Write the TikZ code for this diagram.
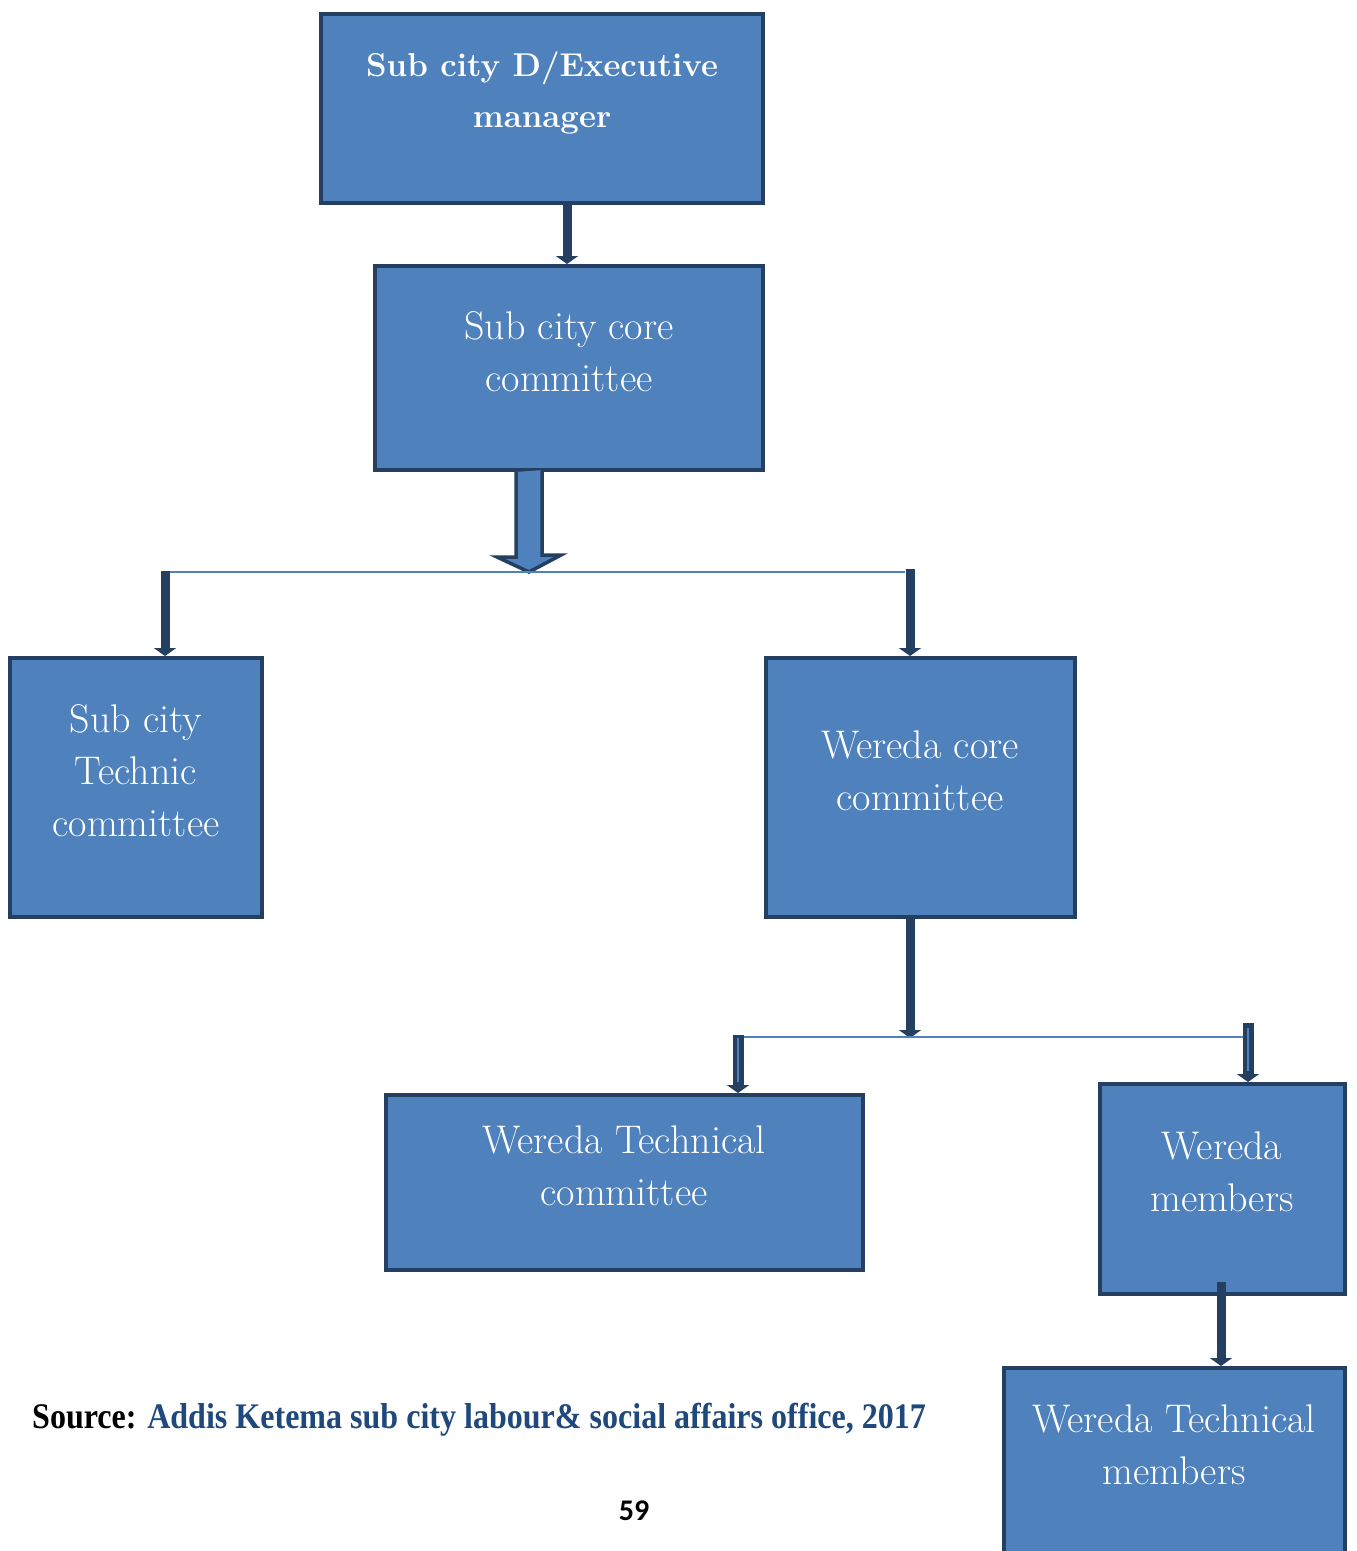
\documentclass[tikz,border=0pt]{standalone}
\usepackage{fontspec}
\usepackage{graphicx}
\usetikzlibrary{arrows.meta,calc}
\newfontfamily\srcfont{Liberation Serif}
\newfontfamily\numfont{Carlito}
\definecolor{boxfill}{HTML}{4F81BD}
\definecolor{boxline}{HTML}{243F60}
\definecolor{srcblue}{HTML}{1F497D}
\tikzset{
  box/.style={draw=boxline, line width=4pt, fill=boxfill, rectangle, inner sep=0pt},
  boxtext/.style={text=white, align=center, font=\fontsize{40}{52}\selectfont},
  darr/.style={draw=boxline, line width=9pt, -{Triangle[width=22pt,length=8pt]}},
  hline/.style={draw=boxfill, line width=1.6pt},
  inner/.style={draw=boxfill, line width=1.5pt}
}
\begin{document}
\begin{tikzpicture}[x=1pt,y=-1pt]
\clip (0,0) rectangle (1357,1551);
\fill[white] (0,0) rectangle (1357,1551);

% boxes
\node[box, minimum width=442pt, minimum height=189pt] (top) at (542,108.5) {};
\node[box, minimum width=388pt, minimum height=204pt] (core) at (569,368) {};
\node[box, minimum width=252pt, minimum height=259pt] (subtech) at (136,787.5) {};
\node[box, minimum width=309pt, minimum height=259pt] (wcore) at (920.5,787.5) {};
\node[box, minimum width=477pt, minimum height=175pt] (wtc) at (624.5,1182.5) {};
\node[box, minimum width=245pt, minimum height=210pt] (wmem) at (1222.5,1189) {};
\node[box, minimum width=341pt, minimum height=192pt] (wtm) at (1174.5,1464) {};

% texts
\node[boxtext, font=\bfseries\fontsize{33}{51}\selectfont] (t1) at (542,93) {Sub city D/Executive\\manager};
\node[boxtext] (t2) at (569,352) {Sub city core\\committee};
\node[boxtext] (t3) at (136,771) {Sub city\\Technic\\committee};
\node[boxtext] (t4) at (920,771) {Wereda core\\committee};
\node[boxtext] (t5) at (624,1166) {Wereda Technical\\committee};
\node[boxtext] (t6) at (1222,1172) {Wereda\\members};
\node[boxtext] (t7) at (1174,1445) {Wereda Technical\\members};

% top -> core
\draw[darr] (top.south -| 567,0) -- (core.north -| 567,0);

% block arrow core -> first bus
\coordinate (bus1) at (529,572);
\filldraw[fill=boxfill, draw=boxline, line width=3.5pt, line join=miter]
  ($(core.south -| bus1)+(-13,0)$) -- ++(0,85) -- ++(-19,0) -- (bus1)
  -- ++(32,-17) -- ++(-19,0) -- ++(0,-85);
\coordinate (busL) at (165,572);
\coordinate (busR) at (910,572);
\draw[hline] (170,572) -- (905,572);
\draw[darr] ($(busL)+(0,-1)$) -- (subtech.north -| busL);
\draw[darr] ($(busR)+(0,-3)$) -- (wcore.north -| busR);

% wereda core -> second bus
\coordinate (bus2) at (910,1038);
\draw[darr] (wcore.south -| bus2) -- (bus2);
\draw[hline] (735,1037) -- (1250,1037);
\coordinate (bus2L) at (738,1035);
\coordinate (bus2R) at (1248,1023);
\draw[darr, line width=11pt] (bus2L) -- (wtc.north -| bus2L);
\draw[inner] (738,1038) -- (738,1082);
\draw[darr, line width=11pt] (bus2R) -- (wmem.north -| bus2R);
\draw[inner] (1248,1028) -- (1248,1071);

% wereda members -> wereda technical members
\coordinate (wm) at (1221,1282);
\draw[darr] (wm) -- (wtm.north -| wm);

% source and page number
\node[anchor=west, inner sep=0pt] (src) at (32,1420)
  {\scalebox{0.89}[1]{\srcfont\bfseries\fontsize{36}{40}\selectfont Source: \textcolor{srcblue}{Addis Ketema sub city labour\& social affairs office, 2017}}};
\node[inner sep=0pt] (pg) at (634,1511) {\numfont\bfseries\fontsize{30}{34}\selectfont 59};
\end{tikzpicture}
\end{document}
